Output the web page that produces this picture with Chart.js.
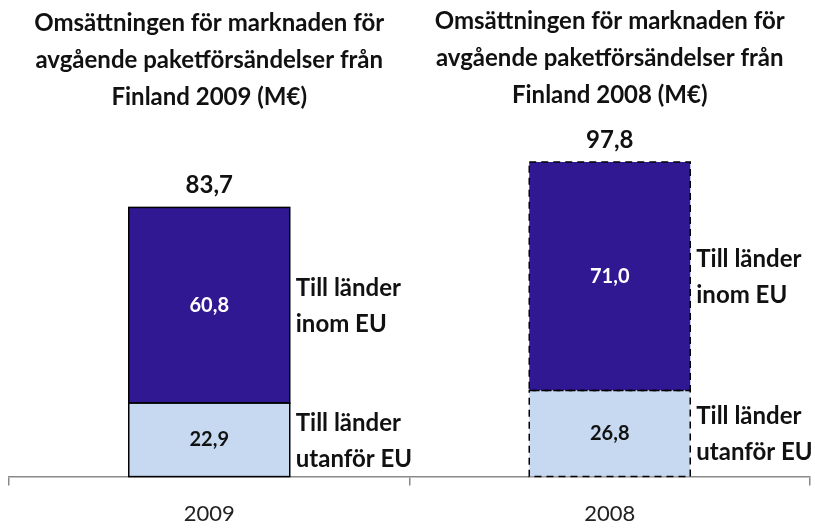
<!DOCTYPE html>
<html>
<head>
<meta charset="utf-8">
<script src="https://cdn.jsdelivr.net/npm/chart.js@4"></script>
<style>
  html, body { margin: 0; padding: 0; background: #fff; }
  #wrap { width: 815px; height: 529px; }
</style>
</head>
<body>
<div id="wrap"><canvas id="paketChart" width="815" height="529"></canvas></div>
<script>
// data
const categories = ['2009', '2008'];
const utanforEU = [22.9, 26.8];
const inomEU = [60.8, 71.0];
const totals = [83.7, 97.8];
const seriesNames = [['Till länder', 'utanför EU'], ['Till länder', 'inom EU']];
const titles = [
  ['Omsättningen för marknaden för', 'avgående paketförsändelser från', 'Finland 2009 (M€)'],
  ['Omsättningen för marknaden för', 'avgående paketförsändelser från', 'Finland 2008 (M€)']
];

const FONT = 'Lato, "Open Sans", sans-serif';
const fmt = v => v.toFixed(1).replace('.', ',');

// bar outlines: solid for 2009, dashed for 2008, plus all the text labels
const labelPlugin = {
  id: 'labelPlugin',
  afterDatasetsDraw(chart) {
    const ctx = chart.ctx;
    const x = chart.scales.x;
    ctx.save();
    chart.data.datasets.forEach((ds, di) => {
      const meta = chart.getDatasetMeta(di);
      meta.data.forEach((bar, i) => {
        const p = bar.getProps(['x', 'y', 'base', 'width'], true);
        const left = p.x - p.width / 2, top = Math.min(p.y, p.base), h = Math.abs(p.base - p.y);
        // outline
        ctx.strokeStyle = '#000';
        ctx.lineWidth = 1.5;
        ctx.setLineDash(i === 1 ? [7, 5] : []);
        ctx.strokeRect(left, top, p.width, h);
        ctx.setLineDash([]);
        // value inside
        ctx.font = 'bold 20px ' + FONT;
        ctx.textAlign = 'center';
        ctx.textBaseline = 'middle';
        ctx.fillStyle = di === 1 ? '#fff' : '#111';
        ctx.fillText(fmt(ds.data[i]), p.x, top + h / 2);
        // series name to the right
        ctx.font = 'bold 24px ' + FONT;
        ctx.textAlign = 'left';
        ctx.fillStyle = '#111';
        const lines = seriesNames[di];
        const mid = top + h / 2 + 1;
        ctx.fillText(lines[0], left + p.width + 6, mid - 18);
        ctx.fillText(lines[1], left + p.width + 6, mid + 18);
      });
    });
    // totals above bars
    const topMeta = chart.getDatasetMeta(1);
    topMeta.data.forEach((bar, i) => {
      ctx.font = 'bold 24px ' + FONT;
      ctx.textAlign = 'center';
      ctx.textBaseline = 'middle';
      ctx.fillStyle = '#111';
      ctx.fillText(fmt(totals[i]), bar.x, bar.y - 22);
    });
    // titles
    titles.forEach((t, i) => {
      const cx = x.getPixelForValue(i);
      const y0 = i === 0 ? 23 : 21;
      ctx.font = 'bold 24px ' + FONT;
      ctx.textAlign = 'center';
      ctx.textBaseline = 'middle';
      ctx.fillStyle = '#111';
      t.forEach((line, li) => ctx.fillText(line, cx, y0 + li * 37));
    });
    ctx.restore();
  }
};

new Chart(document.getElementById('paketChart').getContext('2d'), {
  type: 'bar',
  data: {
    labels: categories,
    datasets: [
      {
        label: 'Till länder utanför EU',
        data: utanforEU,
        backgroundColor: '#c6d9f1',
        borderWidth: 0,
        categoryPercentage: 1,
        barPercentage: 0.402
      },
      {
        label: 'Till länder inom EU',
        data: inomEU,
        backgroundColor: '#311893',
        borderWidth: 0,
        categoryPercentage: 1,
        barPercentage: 0.402
      }
    ]
  },
  plugins: [labelPlugin],
  options: {
    responsive: false,
    animation: false,
    layout: { padding: { left: 9, right: 5, top: 155, bottom: -13 } },
    plugins: {
      legend: { display: false },
      tooltip: { enabled: false }
    },
    scales: {
      x: {
        stacked: true,
        grid: {
          offset: true,
          drawOnChartArea: false,
          drawTicks: true,
          tickLength: 9,
          color: '#898989',
          lineWidth: 1.5
        },
        border: { display: true, color: '#898989', width: 1.5 },
        ticks: {
          color: '#222',
          font: { family: FONT, size: 22 },
          padding: 15
        }
      },
      y: {
        stacked: true,
        display: false,
        min: 0,
        max: 100
      }
    }
  }
});
</script>
</body>
</html>
